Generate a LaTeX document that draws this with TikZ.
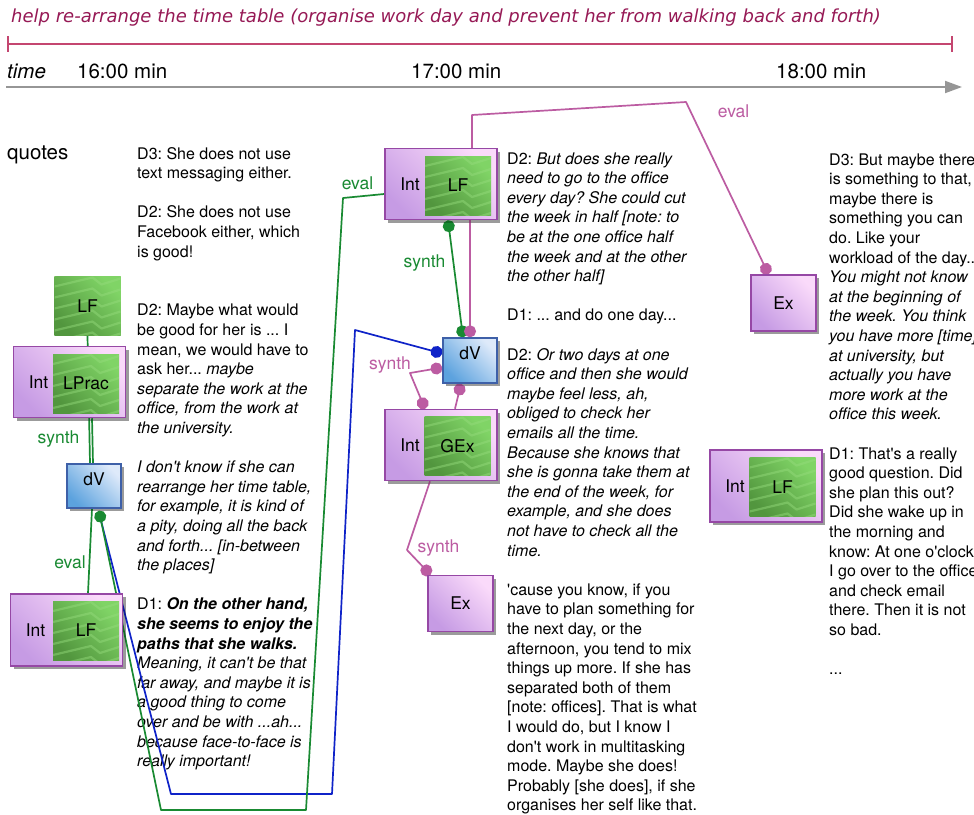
\documentclass[tikz,border=0pt]{standalone}
\usepackage{fontspec}
\newfontfamily\helv{TeX Gyre Heros}
\newfontfamily\titlefont{DejaVu Sans}
\usetikzlibrary{shadows,arrows.meta}

\definecolor{titlecol}{RGB}{150,25,85}
\definecolor{spancol}{RGB}{196,70,112}
\definecolor{axiscol}{RGB}{150,150,150}
\definecolor{lkgreen}{RGB}{25,138,50}
\definecolor{lkblue}{RGB}{15,35,200}
\definecolor{lkmag}{RGB}{188,92,162}
\definecolor{purpdark}{RGB}{198,155,228}
\definecolor{purplight}{RGB}{250,218,250}
\definecolor{purpedge}{RGB}{150,72,165}
\definecolor{grdark}{RGB}{82,150,62}
\definecolor{grlight}{RGB}{128,212,102}
\definecolor{grline}{RGB}{150,220,125}
\definecolor{bluedark}{RGB}{92,162,222}
\definecolor{bluelight}{RGB}{222,234,250}
\definecolor{blueedge}{RGB}{62,96,168}

\tikzset{
  body/.style={anchor=base west, inner sep=0pt, font=\helv\fontsize{16}{19.6}\selectfont},
  lbl/.style={inner sep=0pt, font=\helv\fontsize{17.5}{21}\selectfont},
  head/.style={anchor=base west, inner sep=0pt, font=\helv\fontsize{20.5}{24}\selectfont},
  boxshadow/.style={drop shadow={shadow xshift=3pt, shadow yshift=-3pt, fill=black, opacity=.22}},
  intbox/.style={draw=purpedge, line width=1.5pt, bottom color=purpdark, top color=purplight,
    shading angle=-45, minimum width=112pt, minimum height=71pt, inner sep=0pt, boxshadow},
  exbox/.style={intbox, minimum width=65pt, minimum height=56pt, font=\helv\fontsize{17.5}{21}\selectfont},
  dvbox/.style={draw=blueedge, line width=1.4pt, bottom color=bluedark, top color=bluelight,
    shading angle=-45, minimum width=54pt, minimum height=44pt, inner sep=0pt, boxshadow},
  grbox/.style={inner sep=0pt, minimum width=66pt, minimum height=59pt,
    bottom color=grdark, top color=grlight, shading angle=-45,
    font=\helv\fontsize{17.5}{21}\selectfont,
    path picture={
      \foreach \k in {0,...,6}{
        \draw[grline, line width=2.2pt, opacity=.45, line join=round]
          ([yshift=\k*11pt-6pt]path picture bounding box.south west)
          -- ++(38,-9) -- ++(9,7) -- ++(19,-6);
      }}},
  link/.style={line width=1.7pt, line join=round},
  blob/.tip={Circle[length=12pt]},
}

\begin{document}
\frenchspacing
\begin{tikzpicture}[x=1pt,y=-1pt]
\clip (0,0) rectangle (974,814);
\fill[white] (0,0) rectangle (974,814);

% ---------- header: goal span and time axis ----------
\node[anchor=base west, inner sep=0pt, text=titlecol,
      font=\titlefont\itshape\fontsize{18}{22}\selectfont] (title) at (11,22)
  {help re-arrange the time table (organise work day and prevent her from walking back and forth)};
\coordinate (spanL) at (8,44);
\coordinate (spanR) at (952,44);
\draw[spancol, line width=2.8pt] (spanL) -- (spanR);
\draw[spancol, line width=2.4pt] ([yshift=8pt]spanL) -- ([yshift=-8pt]spanL);
\draw[spancol, line width=2.4pt] ([yshift=8pt]spanR) -- ([yshift=-8pt]spanR);

\coordinate (axL) at (6,87);
\coordinate (axR) at (962,87);
\draw[axiscol, line width=1.8pt, -{Triangle[length=17pt,width=12pt]}] (axL) -- (axR);
\node[head, font=\helv\itshape\fontsize{20.5}{24}\selectfont] (tlab) at (7,78) {time};
\node[head] (t16) at (77,78) {16:00 min};
\node[head] (t17) at (411,78) {17:00 min};
\node[head] (t18) at (776,78) {18:00 min};
\node[head] (quotes) at (7,159) {quotes};

% ---------- quotes ----------
\node[body] (col1) at (137,159) {\parbox[t]{400pt}{%
D3: She does not use\\
text messaging either.\\[19.6pt]
D2: She does not use\\
Facebook either, which\\
is good!\\[39.2pt]
D2: Maybe what would\\
be good for her is ... I\\
mean, we would have to\\
ask her... \textit{maybe}\\
\textit{separate the work at the}\\
\textit{office, from the work at}\\
\textit{the university.}\\[19.6pt]
\textit{I don't know if she can}\\
\textit{rearrange her time table,}\\
\textit{for example, it is kind of}\\
\textit{a pity, doing all the back}\\
\textit{and forth... [in-between}\\
\textit{the places]}\\[19.6pt]
D1: \textbf{\textit{On the other hand,}}\\
\textbf{\textit{she seems to enjoy the}}\\
\textbf{\textit{paths that she walks.}}\\
\textit{Meaning, it can't be that}\\
\textit{far away, and maybe it is}\\
\textit{a good thing to come}\\
\textit{over and be with ...ah...}\\
\textit{because face-to-face is}\\
\textit{really important!}}};

\node[body] (col2) at (507,164) {\parbox[t]{400pt}{%
D2: \textit{But does she really}\\
\textit{need to go to the office}\\
\textit{every day? She could cut}\\
\textit{the week in half [note: to}\\
\textit{be at the one office half}\\
\textit{the week and at the other}\\
\textit{the other half]}\\[19.6pt]
D1: ... and do one day...\\[19.6pt]
D2: \textit{Or two days at one}\\
\textit{office and then she would}\\
\textit{maybe feel less, ah,}\\
\textit{obliged to check her}\\
\textit{emails all the time.}\\
\textit{Because she knows that}\\
\textit{she is gonna take them at}\\
\textit{the end of the week, for}\\
\textit{example, and she does}\\
\textit{not have to check all the}\\
\textit{time.}\\[19.6pt]
'cause you know, if you\\
have to plan something for\\
the next day, or the\\
afternoon, you tend to mix\\
things up more. If she has\\
separated both of them\\
{[}note: offices]. That is what\\
I would do, but I know I\\
don't work in multitasking\\
mode. Maybe she does!\\
Probably [she does], if she\\
organises her self like that.}};

\node[body] (col3) at (829,165) {\parbox[t]{400pt}{%
D3: But maybe there\\
is something to that,\\
maybe there is\\
something you can\\
do. Like your\\
workload of the day...\\
\textit{You might not know}\\
\textit{at the beginning of}\\
\textit{the week. You think}\\
\textit{you have more [time]}\\
\textit{at university, but}\\
\textit{actually you have}\\
\textit{more work at the}\\
\textit{office this week.}\\[19.6pt]
D1: That's a really\\
good question. Did\\
she plan this out?\\
Did she wake up in\\
the morning and\\
know: At one o'clock\\
I go over to the office\\
and check email\\
there. Then it is not\\
so bad.\\[19.6pt]
...}};

% ---------- box positions ----------
\coordinate (p-lf1) at (87.5,306);
\coordinate (p-i1) at (69.5,382);
\coordinate (p-dv1) at (94,486);
\coordinate (p-i3) at (66.5,630);
\coordinate (p-i2) at (441,184);
\coordinate (p-dv2) at (470,360.5);
\coordinate (p-i4) at (441,445);
\coordinate (p-ex1) at (460.5,603.5);
\coordinate (p-ex2) at (783.5,303);
\coordinate (p-i5) at (766,486);

% bend points of the long connectors
\coordinate (gA) at (161,810);
\coordinate (gB) at (306,810);
\coordinate (gC) at (343,198);
\coordinate (bA) at (171,794);
\coordinate (bB) at (332,794);
\coordinate (bC) at (355,330);
\coordinate (mA) at (472,115);
\coordinate (mB) at (686,102);
\coordinate (mC) at (410,373);
\coordinate (mD) at (407,550);

% outer boxes are placed first so the connectors can refer to them
\path
  node[grbox] (lf1) at (p-lf1) {LF}
  node[intbox] (i1) at (p-i1) {}
  node[dvbox] (dv1) at (p-dv1) {}
  node[intbox, minimum height=72pt] (i3) at (p-i3) {}
  node[intbox] (i2) at (p-i2) {}
  node[dvbox, minimum height=45pt] (dv2) at (p-dv2) {}
  node[intbox] (i4) at (p-i4) {}
  node[exbox] (ex1) at (p-ex1) {Ex}
  node[exbox] (ex2) at (p-ex2) {Ex}
  node[intbox, minimum height=72pt] (i5) at (p-i5) {};

% ---------- connectors ----------
\draw[link, lkgreen] (lf1.south) -- ([xshift=-4pt]dv1.north);
\draw[link, lkgreen] ([xshift=22.5pt]i1.south) -- ([xshift=-1pt]dv1.north);
\draw[link, lkgreen] ([xshift=-2pt]dv1.south) -- ([xshift=21.5pt]i3.north);

\draw[link, lkblue, -blob] ([xshift=6pt,yshift=-8pt]dv1.south) -- (bA) -- (bB) -- (bC)
  -- ([yshift=7pt]dv2.west);
\draw[link, lkgreen, blob-] ([xshift=5pt,yshift=-2pt]dv1.south) -- (gA) -- (gB) -- (gC)
  -- ([yshift=-10pt]i2.west);

\draw[link, lkgreen, blob-blob] ([xshift=7pt]i2.south) -- ([xshift=-7pt]dv2.north);
\draw[link, lkmag, -blob] ([xshift=29pt]i2.south) -- (dv2.north);
\draw[link, lkmag, -blob] ([xshift=31pt]i2.north) -- (mA) -- (mB) -- ([xshift=-15pt]ex2.north);
\draw[link, lkmag, blob-blob] ([yshift=-7pt]dv2.west) -- (mC) -- ([xshift=-16pt]i4.north);
\draw[link, lkmag, blob-] ([xshift=-9pt]dv2.south) -- ([xshift=14pt]i4.north);
\draw[link, lkmag, -blob] ([xshift=-11pt]i4.south) -- (mD) -- ([xshift=-30pt]ex1.north);

% ---------- boxes drawn over the connector ends ----------
\node[grbox] (lf1b) at (p-lf1) {LF};
\node[intbox] (i1b) at (p-i1) {};
\node[grbox] (g1) at (86,383.5) {LPrac};
\node[lbl] (int1) at ([xshift=-31pt]i1b.center) {Int};

\node[dvbox] (dv1b) at (p-dv1) {};
\node[lbl] (dvl1) at ([yshift=7pt]dv1b.center) {dV};

\node[intbox, minimum height=72pt] (i3b) at (p-i3) {};
\node[grbox] (g3) at (86,630.5) {LF};
\node[lbl] (int3) at ([xshift=-31pt]i3b.center) {Int};

\node[intbox] (i2b) at (p-i2) {};
\node[grbox] (g2) at (458,185.5) {LF};
\node[lbl] (int2) at ([xshift=-31pt]i2b.center) {Int};

\node[dvbox, minimum height=45pt] (dv2b) at (p-dv2) {};
\node[lbl] (dvl2) at ([yshift=7pt]dv2b.center) {dV};

\node[intbox] (i4b) at (p-i4) {};
\node[grbox] (g4) at (457.5,446) {GEx};
\node[lbl] (int4) at ([xshift=-31pt]i4b.center) {Int};

\node[exbox] (ex1b) at (p-ex1) {Ex};
\node[exbox] (ex2b) at (p-ex2) {Ex};

\node[intbox, minimum height=72pt] (i5b) at (p-i5) {};
\node[grbox] (g5) at (782.5,487) {LF};
\node[lbl] (int5) at ([xshift=-31pt]i5b.center) {Int};

% ---------- connector labels ----------
\node[lbl, text=lkgreen, anchor=base] (s1) at (58.5,443) {synth};
\node[lbl, text=lkgreen, anchor=base] (e1) at (70,568) {eval};
\node[lbl, text=lkgreen, anchor=base] (e2) at (357.5,189) {eval};
\node[lbl, text=lkgreen, anchor=base] (s2) at (424.5,267) {synth};
\node[lbl, text=lkmag, anchor=base] (s3) at (390,369) {synth};
\node[lbl, text=lkmag, anchor=base] (s4) at (438.5,552) {synth};
\node[lbl, text=lkmag, anchor=base] (e3) at (733.5,117) {eval};
\end{tikzpicture}
\end{document}
